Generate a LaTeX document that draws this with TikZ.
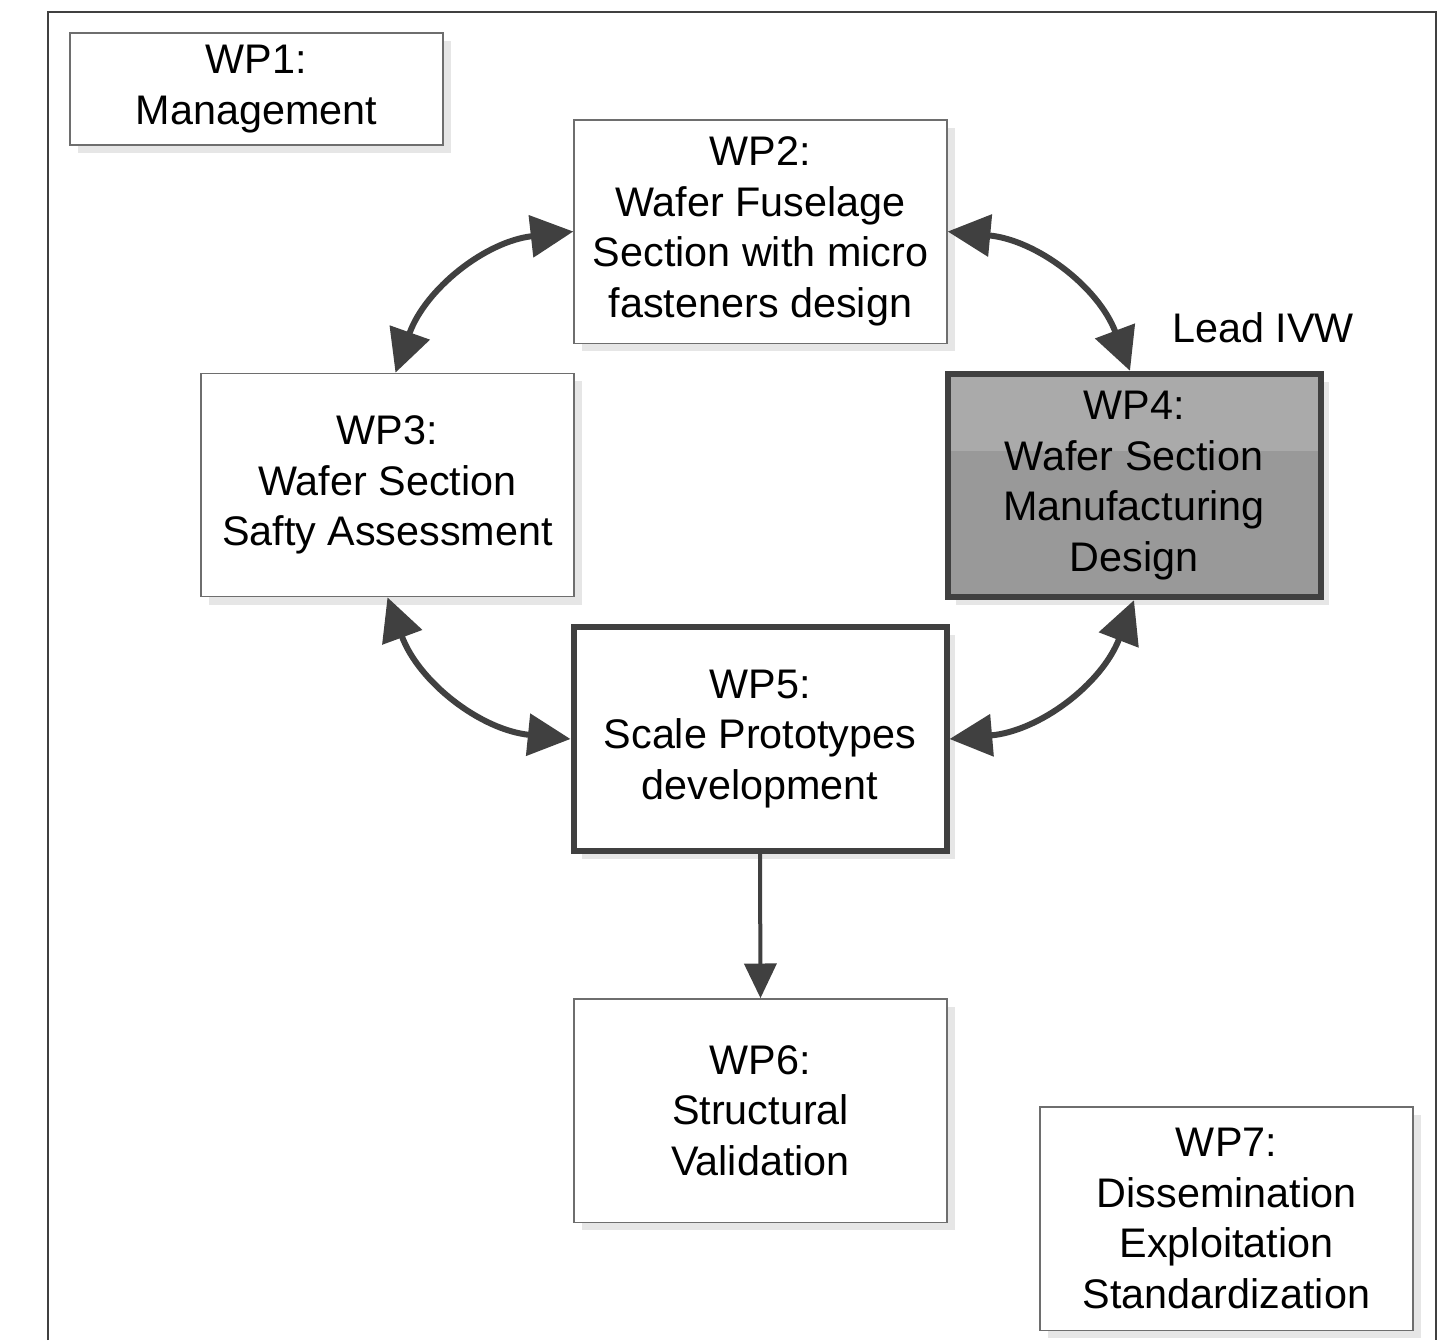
\documentclass[tikz,border=0pt]{standalone}
\usepackage{fontspec}
\setmainfont{Liberation Sans}
\usetikzlibrary{arrows.meta,shadows}

\definecolor{linegray}{RGB}{64,64,64}
\definecolor{boxgray}{RGB}{110,110,110}
\definecolor{shadowgray}{RGB}{230,230,230}
\definecolor{wplight}{RGB}{170,170,170}
\definecolor{wpdark}{RGB}{153,153,153}

\newcommand\wpfont{\fontsize{31}{38}\selectfont}

\tikzset{
	wpbox/.style={draw=boxgray, line width=1pt, fill=white, align=center, font=\wpfont,
		minimum width=279.75pt, minimum height=167.5pt, inner sep=0pt,
		drop shadow={shadow xshift=6pt, shadow yshift=-6pt, fill=shadowgray, opacity=1}},
	leadbox/.style={wpbox, draw=linegray, line width=4.5pt},
	link/.style={draw=linegray, line width=4.5pt,
		{Triangle[length=32pt,width=31pt]}-{Triangle[length=32pt,width=31pt]}},
	flow/.style={draw=linegray, line width=3pt, -{Triangle[length=26pt,width=24pt]}},
}

\begin{document}
\begin{tikzpicture}[x=0.75pt,y=0.75pt,yscale=-1,xscale=1]
	\useasboundingbox (0,0) rectangle (1454,1340);
	
	% outer frame, open at the bottom
	\draw [draw=linegray, line width=1.5pt] (48,1340) |- (1436,12) -- (1436,1340);
	
	% Work packages
	\node [wpbox, minimum height=84pt] (wp1) at (256.5,89) {WP1:\\Management};
	\node [wpbox] (wp2) at (760.5,231.5) {WP2:\\Wafer Fuselage\\Section with micro\\fasteners design};
	\node [wpbox] (wp3) at (387.5,485) {WP3:\\Wafer Section\\Safty Assessment};
	\node [leadbox, fill=wpdark,
		path picture={\fill [wplight] (path picture bounding box.north west) rectangle ([yshift=-58pt]path picture bounding box.north east);}]
		(wp4) at (1134,485.5) {WP4:\\Wafer Section\\Manufacturing\\Design};
	\node [leadbox] (wp5) at (760,739) {WP5:\\Scale Prototypes\\development};
	\node [wpbox] (wp6) at (760.5,1110.5) {WP6:\\Structural\\Validation};
	\node [wpbox] (wp7) at (1226.5,1218.5) {WP7:\\Dissemination\\Exploitation\\Standardization};
	
	% Text Node
	\node [font=\wpfont, inner sep=0pt] (lead) at (1263,328) {Lead IVW};
	
	% Links
	\draw [link] (wp2.west) to [bend left=32] ([xshift=6pt]wp3.north);
	\draw [link] (wp2.east) to [bend right=32] ([xshift=-3pt]wp4.north);
	\draw [link] (wp3.south) to [bend left=32] (wp5.west);
	\draw [link] (wp4.south) to [bend right=32] (wp5.east);
	\draw [flow] (wp5.south) -- (wp6.north);
	
\end{tikzpicture}
\end{document}
